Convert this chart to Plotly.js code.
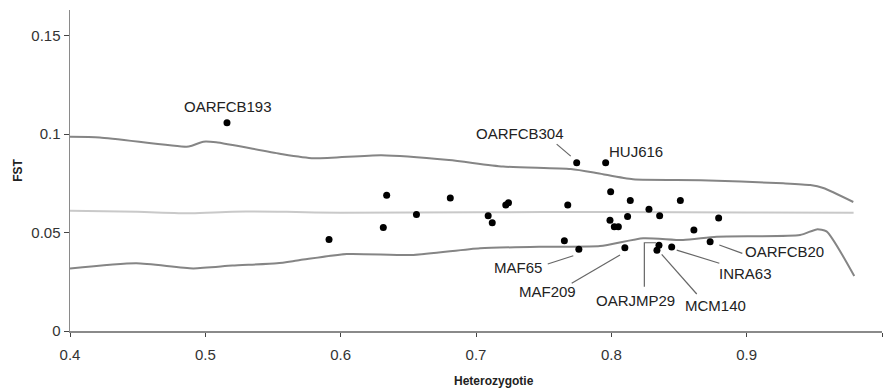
<!DOCTYPE html>
<html>
<head>
<meta charset="utf-8">
<script src="https://cdn.plot.ly/plotly-3.0.1.min.js"></script>
<style>html,body{margin:0;padding:0;background:#fff;}#chart{width:885px;height:390px;}</style>
</head>
<body>
<div id="chart"></div>
<script>
// Locus points: heterozygosity vs FST
var pointH = [0.516, 0.7744, 0.7958, 0.634, 0.681, 0.722, 0.724, 0.7678, 0.656, 0.709, 0.712, 0.6315, 0.5914, 0.7653, 0.776,
              0.7995, 0.814, 0.851, 0.8278, 0.812, 0.8357, 0.8793, 0.799, 0.8022, 0.8052, 0.861, 0.873, 0.810, 0.8352, 0.8337, 0.8446];
var pointF = [0.1057, 0.0854, 0.0854, 0.0689, 0.0675, 0.0640, 0.0651, 0.0640, 0.0592, 0.0585, 0.0550, 0.0526, 0.0464, 0.0458, 0.0415,
              0.0707, 0.0663, 0.0663, 0.0618, 0.0582, 0.0585, 0.0574, 0.0563, 0.0529, 0.0529, 0.0513, 0.0453, 0.0423, 0.0435, 0.0410, 0.0426];

// Upper confidence band
var upperH = [0.40, 0.422, 0.486, 0.490, 0.4985, 0.508, 0.555, 0.58, 0.63, 0.68, 0.72, 0.77, 0.79, 0.816, 0.866, 0.927, 0.947, 0.9566, 0.9788];
var upperF = [0.0986, 0.0983, 0.0936, 0.0941, 0.0961, 0.0958, 0.0900, 0.0877, 0.0893, 0.0868, 0.0835, 0.0822, 0.0801, 0.0770, 0.0766, 0.0750, 0.0741, 0.0726, 0.0655];

// Mean line
var meanH = [0.40, 0.45, 0.49, 0.52, 0.56, 0.60, 0.70, 0.80, 0.90, 0.979];
var meanF = [0.0610, 0.0605, 0.0598, 0.0606, 0.0605, 0.0600, 0.0603, 0.0604, 0.0602, 0.0601];

// Lower confidence band
var lowerH = [0.40, 0.449, 0.491, 0.520, 0.553, 0.570, 0.6045, 0.6537, 0.703, 0.752, 0.7916, 0.8236, 0.853, 0.8778, 0.9394, 0.9517, 0.959, 0.9795];
var lowerF = [0.0318, 0.0344, 0.0318, 0.0332, 0.0344, 0.0360, 0.0391, 0.0386, 0.0420, 0.0428, 0.0431, 0.0471, 0.0462, 0.0479, 0.0487, 0.0516, 0.0506, 0.0279];

// Labelled loci
var labelNames = ["OARFCB193", "OARFCB304", "HUJ616", "MAF65", "MAF209", "OARJMP29", "MCM140", "INRA63", "OARFCB20"];

var xTickVals = [0.4, 0.5, 0.6, 0.7, 0.8, 0.9, 1.0];
var xTickText = ["0.4", "0.5", "0.6", "0.7", "0.8", "0.9", "1"];
var yTickVals = [0, 0.05, 0.1, 0.15];
var yTickText = ["0", "0.05", "0.1", "0.15"];

// label layout (text placement, leader lines) in data coordinates
var labelPos = [
  [0.5167, 0.1140], [0.7325, 0.1005], [0.8179, 0.0910], [0.7310, 0.0320], [0.7525, 0.0200],
  [0.8182, 0.0157], [0.8770, 0.0132], [0.8995, 0.0293], [0.9280, 0.0403]
];
var leaders = [
  null,
  [[0.7596, 0.0949], [0.7700, 0.0888]],
  null,
  [[0.7530, 0.0340], [0.7719, 0.0382]],
  [[0.7707, 0.0242], [0.8064, 0.0386]],
  [[0.8244, 0.0225], [0.8244, 0.0448], [0.8330, 0.0448]],
  [[0.8631, 0.0188], [0.8372, 0.0389]],
  [[0.8798, 0.0344], [0.8483, 0.0411]],
  [[0.8968, 0.0394], [0.8798, 0.0437]]
];

var FONT = "Liberation Sans, Arial, sans-serif";

var traces = [
  {x: upperH, y: upperF, mode: "lines", line: {color: "#858585", width: 2, shape: "spline", smoothing: 0.6}, hoverinfo: "skip", showlegend: false},
  {x: meanH, y: meanF, mode: "lines", line: {color: "#c9c9c9", width: 2, shape: "spline", smoothing: 0.6}, hoverinfo: "skip", showlegend: false},
  {x: lowerH, y: lowerF, mode: "lines", line: {color: "#858585", width: 2, shape: "spline", smoothing: 0.6}, hoverinfo: "skip", showlegend: false},
  {x: pointH, y: pointF, mode: "markers", marker: {color: "#000", size: 7, line: {width: 0}}, showlegend: false}
];

var annotations = labelNames.map(function (n, i) {
  return {x: labelPos[i][0], y: labelPos[i][1], xref: "x", yref: "y", text: n, showarrow: false,
          font: {family: FONT, size: 15, color: "#222"}, xanchor: "center", yanchor: "middle"};
});
annotations.push({x: 0.522, y: -0.156, xref: "paper", yref: "paper", text: "<b>Heterozygotie</b>", showarrow: false,
                  font: {family: FONT, size: 12, color: "#222"}, xanchor: "center", yanchor: "middle"});

var shapes = [];
leaders.forEach(function (l) {
  if (!l) return;
  var p = "M" + l.map(function (q) { return q[0] + "," + q[1]; }).join(" L");
  shapes.push({type: "path", xref: "x", yref: "y", path: p, line: {color: "#666", width: 1.2}});
});

var layout = {
  width: 885, height: 390,
  margin: {l: 70, r: 3, t: 10, b: 59},
  paper_bgcolor: "#fff", plot_bgcolor: "#fff",
  font: {family: FONT, size: 15, color: "#333"},
  xaxis: {range: [0.4, 1.0], tickvals: xTickVals, ticktext: xTickText, showgrid: false, zeroline: false,
          showline: true, linecolor: "#8a8a8a", linewidth: 1.5, ticks: "outside", ticklen: 4, tickcolor: "#444",
          tickfont: {family: FONT, size: 15, color: "#333"}, ticklabelstandoff: 5},
  yaxis: {range: [0, 0.163], tickvals: yTickVals, ticktext: yTickText, showgrid: false, zeroline: false,
          showline: true, linecolor: "#8a8a8a", linewidth: 1.5, ticks: "outside", ticklen: 5, tickcolor: "#444",
          tickfont: {family: FONT, size: 15, color: "#333"},
          title: {text: "<b>FST</b>", font: {family: FONT, size: 12, color: "#222"}, standoff: 6}},
  annotations: annotations,
  shapes: shapes
};

Plotly.newPlot("chart", traces, layout, {displayModeBar: false, staticPlot: true});
</script>
</body>
</html>
